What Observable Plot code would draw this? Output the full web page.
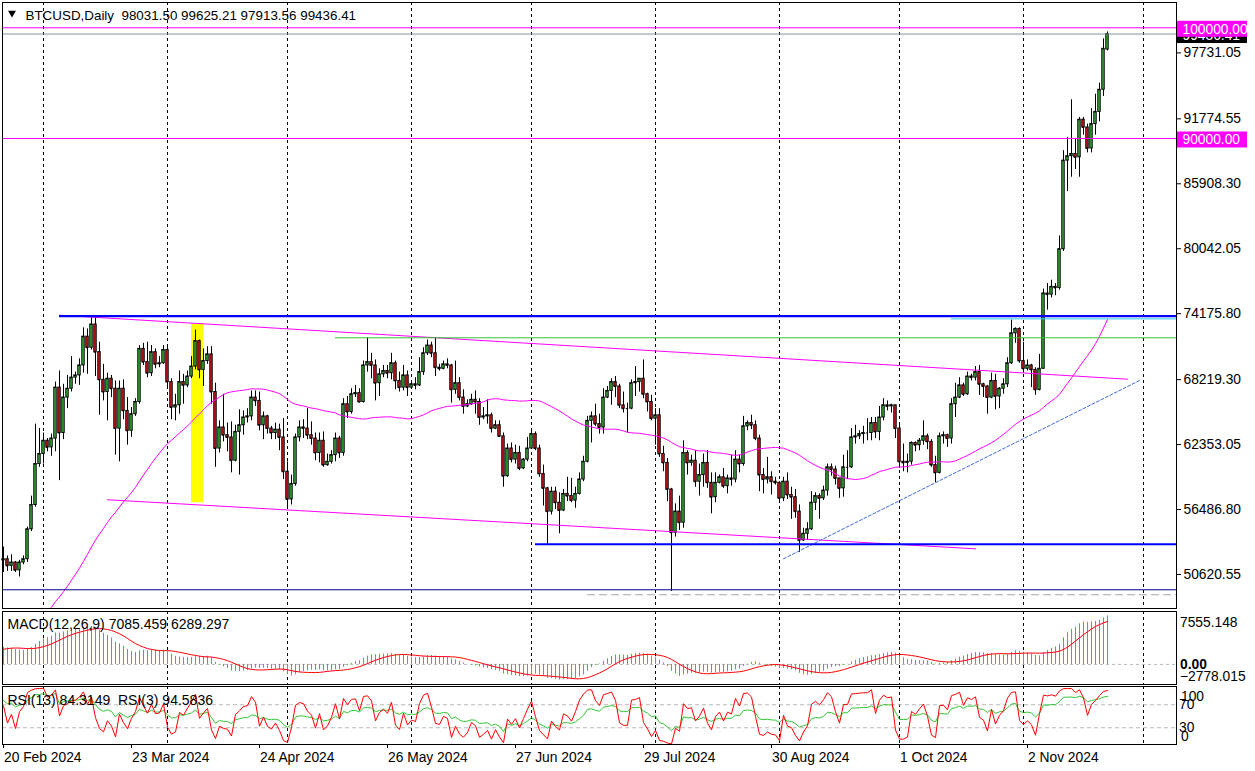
<!DOCTYPE html>
<html><head><meta charset="utf-8">
<script src="https://cdn.jsdelivr.net/npm/d3@7"></script>
<script src="https://cdn.jsdelivr.net/npm/@observablehq/plot@0.6"></script>
<style>
html,body{margin:0;padding:0;background:#fff;}
#chart{position:relative;width:1255px;height:771px;overflow:hidden;background:#fff;}
#chart svg{position:absolute;left:0;top:0;}
</style></head><body><div id="chart"></div>
<script>
// ---- daily candles, BTCUSD, in thousands of USD, first bar 2024-02-20 ----
const firstBar = "2024-02-20";
const opens = [
51.9,52.0,51.4,51.7,51.0,51.7,52.0,54.7,56.9,60.6,
61.5,62.7,62.1,62.9,67.5,63.4,66.6,67.4,68.4,68.6,
69.5,72.1,71.1,73.2,70.7,68.2,67.1,68.3,67.4,63.8,
67.4,65.4,63.6,65.1,66.2,71.0,69.8,68.8,70.7,69.6,
69.7,70.9,68.0,65.7,65.9,68.0,67.7,68.5,69.4,71.7,
69.1,69.9,70.5,67.1,62.0,63.9,63.2,63.0,60.9,63.5,
64.1,64.8,64.9,66.6,66.3,64.1,64.9,63.8,63.4,63.7,
63.0,59.9,57.4,58.8,63.0,63.9,63.8,63.2,62.9,61.6,
62.7,60.5,60.8,61.4,62.9,61.6,66.0,65.3,66.9,67.0,
66.2,69.5,69.8,69.5,67.9,68.7,69.0,68.8,69.7,68.1,
67.5,68.6,67.5,67.8,67.7,68.9,70.6,71.3,70.6,69.3,
69.2,69.6,69.5,67.3,67.9,66.6,65.8,66.0,66.4,66.2,
64.8,64.9,65.0,63.8,64.1,63.1,59.5,62.0,61.0,61.6,
60.2,61.0,62.0,63.3,62.0,59.7,58.4,56.3,58.1,57.1,
56.4,57.9,57.7,57.3,57.9,59.2,60.8,64.5,64.9,64.2,
63.9,66.6,67.2,68.0,67.6,65.9,65.6,65.6,67.9,68.0,
68.3,66.9,66.2,64.7,65.0,61.5,60.7,58.3,54.4,56.3,
55.3,61.6,60.7,60.9,59.0,59.6,60.7,58.9,57.6,58.9,
59.4,58.6,59.3,59.2,61.0,60.6,64.0,64.3,64.1,62.9,
59.6,59.2,59.4,59.0,58.9,57.5,59.0,57.8,57.6,56.3,
53.7,54.3,54.7,57.1,57.7,57.5,58.2,60.3,60.1,59.3,
58.4,60.3,60.3,63.0,63.1,63.3,63.4,63.4,64.3,63.5,
64.8,65.9,65.8,65.9,63.8,60.8,60.7,60.8,62.5,62.3,
62.7,63.1,62.6,60.5,59.8,63.1,63.2,62.9,66.0,66.6,
67.7,66.9,68.5,68.4,68.9,67.8,67.6,66.6,68.1,66.7,
67.4,67.8,69.7,72.4,72.8,69.9,69.2,69.5,69.1,67.3,
69.2,76.0,75.9,76.6,76.5,80.0,88.0,88.4,88.6,88.3,
91.7,91.0,89.1,91.3,92.4,94.4,98.03150];
const highs = [
53.1,52.3,52.4,51.8,51.9,52.3,54.9,57.7,64.2,63.8,
63.4,62.9,63.3,68.0,69.0,67.8,68.6,70.3,68.9,70.1,
72.9,72.8,73.9,73.9,71.6,69.6,68.8,68.6,68.1,68.1,
68.2,66.6,65.7,66.5,71.3,71.5,71.6,71.3,71.0,70.3,
71.3,71.2,68.3,66.9,69.0,68.7,69.0,70.3,72.7,71.8,
71.0,71.2,71.2,67.9,64.5,66.9,64.3,64.4,64.1,65.5,
65.4,65.6,67.2,67.2,67.1,65.3,65.0,64.0,64.3,64.2,
64.7,60.8,59.6,63.3,64.5,64.6,65.6,64.4,63.4,63.4,
63.5,61.5,61.8,63.4,63.1,66.5,66.7,67.4,67.7,67.4,
69.9,72.0,70.6,70.0,69.2,69.5,69.5,70.6,69.9,68.9,
69.5,69.0,67.9,68.4,70.2,71.1,71.8,71.6,72.0,69.6,
69.9,70.1,69.6,69.9,68.4,67.3,66.4,66.9,67.2,66.5,
65.7,66.4,65.2,64.5,64.5,63.4,62.4,62.5,62.3,62.2,
61.1,63.0,63.8,63.5,62.3,60.5,58.5,58.5,58.5,58.0,
58.3,59.4,59.3,58.5,59.8,61.3,64.9,65.3,66.0,65.1,
67.4,67.6,68.3,68.5,67.8,67.1,66.1,68.2,69.4,68.3,
70.0,67.0,66.8,65.6,65.6,62.2,61.1,58.4,57.0,57.7,
62.7,61.8,61.4,61.8,60.6,61.5,61.8,59.8,59.8,59.6,
60.2,59.6,61.4,61.8,61.4,64.9,64.5,65.0,64.5,63.2,
60.2,61.2,59.9,59.4,59.0,59.4,59.8,58.5,58.3,56.9,
54.8,55.3,58.1,58.0,57.9,58.6,60.6,60.6,60.4,59.3,
61.4,61.8,63.8,64.1,63.6,64.0,64.7,64.8,64.8,65.8,
66.5,66.3,66.0,65.9,64.1,62.4,61.5,62.6,62.6,62.9,
64.5,63.3,62.8,61.3,63.4,63.5,63.3,66.5,67.9,68.4,
67.9,68.9,68.7,69.4,69.5,67.9,67.7,68.8,68.7,67.5,
68.3,70.2,73.6,72.9,72.9,71.6,70.0,69.6,69.3,70.5,
76.4,76.9,77.2,76.9,81.2,88.9,90.1,93.5,90.0,91.9,
91.9,91.3,92.7,94.0,95.0,99.0,99.62521];
const lows = [
50.8,50.9,50.9,50.8,50.4,51.5,51.7,54.5,56.7,60.3,
60.6,61.7,61.3,61.7,59.1,62.8,65.6,67.1,67.8,67.7,
68.8,68.7,70.9,68.5,65.0,66.3,64.5,66.6,61.4,60.8,
64.6,62.3,63.0,64.9,66.0,69.5,68.4,68.5,69.2,69.3,
69.6,67.6,64.6,64.5,65.1,66.0,67.5,68.3,69.1,68.3,
67.6,69.6,66.0,60.3,61.6,62.6,61.7,59.8,60.8,59.6,
63.2,64.3,64.5,65.8,63.6,62.8,63.3,62.8,62.8,61.8,
59.2,56.5,56.9,58.6,62.6,62.9,62.8,62.3,60.9,60.7,
60.3,60.4,60.6,60.8,61.1,61.3,64.7,65.1,66.6,66.1,
66.1,68.9,68.3,66.3,66.7,68.4,68.3,68.2,67.3,67.1,
67.2,66.7,67.4,67.3,67.6,68.6,70.4,70.2,68.5,69.0,
69.1,69.2,66.1,66.9,66.3,65.1,65.7,65.9,65.1,64.1,
64.6,64.2,63.4,63.7,63.0,58.5,59.4,60.7,60.6,60.0,
60.1,60.8,61.9,61.8,59.4,56.8,53.3,56.0,56.5,54.3,
56.3,57.2,57.1,56.6,57.8,59.0,60.7,62.5,64.0,63.3,
63.3,66.5,65.9,66.6,65.6,65.2,63.4,65.5,66.7,67.1,
66.5,65.3,64.5,62.3,61.2,59.9,57.2,49.1,54.0,54.6,
54.8,59.6,60.4,58.5,57.7,58.5,58.4,56.1,57.1,58.8,
58.4,57.9,58.6,58.9,59.8,60.4,63.6,63.7,62.7,58.1,
57.9,58.8,57.8,58.7,57.2,57.2,57.4,55.6,55.7,52.6,
53.6,53.7,54.6,56.4,55.6,57.3,57.7,59.5,58.7,57.5,
57.6,59.2,60.2,62.4,62.8,62.4,62.7,62.7,62.9,62.7,
64.5,65.4,65.2,62.9,60.2,59.9,59.8,60.5,61.7,61.8,
62.3,61.9,60.3,58.9,59.7,62.4,62.1,62.4,64.8,66.5,
66.7,66.8,68.1,68.1,66.8,66.6,65.1,66.5,65.5,65.6,
66.9,67.5,69.6,71.5,69.7,68.8,69.0,67.5,66.8,67.2,
69.2,74.5,75.6,75.8,76.3,79.8,85.2,86.5,87.2,86.5,
90.3,88.7,88.7,90.3,91.5,93.8,97.91356];
const closes = [
52.0,51.4,51.7,51.0,51.7,52.0,54.7,56.9,60.6,61.5,
62.7,62.1,62.9,67.5,63.4,66.6,67.4,68.4,68.6,69.5,
72.1,71.1,73.2,70.7,68.2,67.1,68.3,67.4,63.8,67.4,
65.4,63.6,65.1,66.2,71.0,69.8,68.8,70.7,69.6,69.7,
70.9,68.0,65.7,65.9,68.0,67.7,68.5,69.4,71.7,69.1,
69.9,70.5,67.1,62.0,63.9,63.2,63.0,60.9,63.5,64.1,
64.8,64.9,66.6,66.3,64.1,64.9,63.8,63.4,63.7,63.0,
59.9,57.4,58.8,63.0,63.9,63.8,63.2,62.9,61.6,62.7,
60.5,60.8,61.4,62.9,61.6,66.0,65.3,66.9,67.0,66.2,
69.5,69.8,69.5,67.9,68.7,69.0,68.8,69.7,68.1,67.5,
68.6,67.5,67.8,67.7,68.9,70.6,71.3,70.6,69.3,69.2,
69.6,69.5,67.3,67.9,66.6,65.8,66.0,66.4,66.2,64.8,
64.9,65.0,63.8,64.1,63.1,59.5,62.0,61.0,61.6,60.2,
61.0,62.0,63.3,62.0,59.7,58.4,56.3,58.1,57.1,56.4,
57.9,57.7,57.3,57.9,59.2,60.8,64.5,64.9,64.2,63.9,
66.6,67.2,68.0,67.6,65.9,65.6,65.6,67.9,68.0,68.3,
66.9,66.2,64.7,65.0,61.5,60.7,58.3,54.4,56.3,55.3,
61.6,60.7,60.9,59.0,59.6,60.7,58.9,57.6,58.9,59.4,
58.6,59.3,59.2,61.0,60.6,64.0,64.3,64.1,62.9,59.6,
59.2,59.4,59.0,58.9,57.5,59.0,57.8,57.6,56.3,53.7,
54.3,54.7,57.1,57.7,57.5,58.2,60.3,60.1,59.3,58.4,
60.3,60.3,63.0,63.1,63.3,63.4,63.4,64.3,63.5,64.8,
65.9,65.8,65.9,63.8,60.8,60.7,60.8,62.5,62.3,62.7,
63.1,62.6,60.5,59.8,63.1,63.2,62.9,66.0,66.6,67.7,
66.9,68.5,68.4,68.9,67.8,67.6,66.6,68.1,66.7,67.4,
67.8,69.7,72.4,72.8,69.9,69.2,69.5,69.1,67.3,69.2,
76.0,75.9,76.6,76.5,80.0,88.0,88.4,88.6,88.3,91.7,
91.0,89.1,91.3,92.4,94.4,98.1,99.43641];
// closes before the visible range (2023-12-01 .. 2024-02-19) feeding the indicators
const warmupCloses = [
38.7,39.5,40.0,42.0,44.1,43.8,43.3,44.2,43.7,43.8,41.2,41.5,42.9,43.0,41.9,42.2,41.4,42.7,42.3,43.7,43.9,44.0,43.7,43.0,43.6,42.5,43.4,42.6,42.1,42.1,42.3,
44.2,44.9,42.8,44.2,44.2,43.9,43.9,47.0,46.1,46.6,46.3,42.9,42.8,41.7,42.5,43.1,42.7,41.3,41.6,41.7,41.6,39.5,39.8,40.1,40.0,41.8,42.1,42.0,43.3,42.9,42.6,
43.1,43.2,43.0,42.6,42.7,43.1,44.3,45.3,47.1,47.8,48.3,50.0,49.7,51.8,52.0,52.1,51.6,52.1,51.8];

// ---- axes / labels ----
const priceTicks = [50620.55, 56486.80, 62353.05, 68219.30, 74175.80, 80042.05, 85908.30, 91774.55, 97731.05];
const dateLabels = ["2024-02-20","2024-03-23","2024-04-24","2024-05-26","2024-06-27","2024-07-29","2024-08-30","2024-10-01","2024-11-02"];
const gridDates = ["2024-03-01","2024-04-01","2024-05-01","2024-06-01","2024-07-01","2024-08-01","2024-09-01","2024-10-01","2024-11-01","2024-12-01"];
const headerText = "BTCUSD,Daily  98031.50 99625.21 97913.56 99436.41";
const macdText = "MACD(12,26,9) 7085.459 6289.297";
const rsiText = "RSI(13) 84.3149  RSI(3) 94.5836";
const macdScale = [-2778.015, 7555.148];

// ---- drawn objects ----
const levelPrices = [100000, 99436.41, 90000, 73950, 73710, 72000, 53350, 49240, 48790];
const levelStarts = [null, null, null, "2024-03-05", "2024-10-14", "2024-05-13", "2024-07-02", null, "2024-07-15"];
const topLineDates = ["2024-03-05", "2024-11-27"], topLinePrices = [74040, 68260];
const lowLineDates = ["2024-03-17", "2024-10-20"], lowLinePrices = [57370, 52940];
const riseLineDates = ["2024-09-02", "2024-11-30"], riseLinePrices = [52040, 68140];
const boxDates = ["2024-04-07", "2024-04-10"], boxPrices = [57100, 73200];
const tagValues = [99436.41, 100000, 90000];
const tagTexts = ["99436.41", "100000.00", "90000.00"];

// ---------------------------------------------------------------
const DAY = 864e5;
const t0 = Date.parse(firstBar);
const D = s => new Date(s);
const xStart = new Date(t0 - 0.25 * DAY), xEnd = new Date(t0 + 293.25 * DAY);
const GREEN = "#33c533", RED = "#e11b1b", MAG = "#ff00ff";
const FONT = "'Liberation Sans', Arial, Helvetica, sans-serif";

const rows = closes.map((c, i) => ({
  date: new Date(t0 + i * DAY), open: opens[i] * 1000, high: highs[i] * 1000,
  low: lows[i] * 1000, close: c * 1000
}));
const allCloses = warmupCloses.concat(closes).map(v => v * 1000);
const w0 = t0 - warmupCloses.length * DAY;
const allRows = allCloses.map((c, i) => ({date: new Date(w0 + i * DAY), close: c}));

function ema(a, n) { const k = 2 / (n + 1); let e = a[0]; return a.map((v, i) => i === 0 ? e : (e = k * v + (1 - k) * e)); }
function rsi(a, n) {
  const out = a.map(() => NaN); let g = 0, l = 0;
  for (let i = 1; i <= n; i++) { const d = a[i] - a[i - 1]; if (d > 0) g += d; else l -= d; }
  g /= n; l /= n; out[n] = l === 0 ? 100 : 100 - 100 / (1 + g / l);
  for (let i = n + 1; i < a.length; i++) {
    const d = a[i] - a[i - 1];
    g = (g * (n - 1) + Math.max(d, 0)) / n; l = (l * (n - 1) + Math.max(-d, 0)) / n;
    out[i] = l === 0 ? 100 : 100 - 100 / (1 + g / l);
  }
  return out;
}
const e12 = ema(allCloses, 12), e26 = ema(allCloses, 26);
const macd = e12.map((v, i) => v - e26[i]);
const signal = macd.map((_, i) => i < 8 ? NaN : d3.mean(macd.slice(i - 8, i + 1)));
const r13 = rsi(allCloses, 13), r3 = rsi(allCloses, 3);
const off = warmupCloses.length;
const ind = rows.map((r, i) => ({date: r.date, macd: macd[i + off], signal: signal[i + off], rsi13: r13[i + off], rsi3: r3[i + off]}));

const base = {
  width: 1255, height: 771, marginLeft: 2, marginRight: 79,
  color: {type: "identity"},
  style: {fontFamily: FONT, fontSize: "13.8px", color: "black", background: "transparent", overflow: "visible"}
};
const xNoAxis = {type: "utc", domain: [xStart, xEnd], axis: null};
const grid = Plot.ruleX(gridDates.map(D), {stroke: "black", strokeDasharray: "3,3"});
const bx1 = d => new Date(+d.date - 0.3 * DAY), bx2 = d => new Date(+d.date + 0.3 * DAY);

const levelStyle = [
  {stroke: MAG, strokeWidth: 1}, {stroke: "#8494a4", strokeWidth: 1}, {stroke: MAG, strokeWidth: 1},
  {stroke: "#0000ff", strokeWidth: 2.2}, {stroke: "#2cc6ff", strokeWidth: 1}, {stroke: "#33c533", strokeWidth: 1},
  {stroke: "#0000ff", strokeWidth: 2.2}, {stroke: "#00008b", strokeWidth: 1},
  {stroke: "#a8a8a8", strokeWidth: 1, strokeDasharray: "8,4"}
];
const levelMarks = levelPrices.map((p, i) => Plot.ruleY([{p, a: levelStarts[i] ? D(levelStarts[i]) : xStart, b: xEnd}],
  {y: "p", x1: "a", x2: "b", ...levelStyle[i]}));
const seg = (ds, ps) => ds.map((d, i) => ({date: D(d), price: ps[i]}));

const main = Plot.plot({
  ...base, marginTop: 2, marginBottom: 163,
  x: xNoAxis,
  y: {domain: [47549, 102283]},
  marks: [
    grid,
    Plot.rect([{a: D(boxDates[0]), b: D(boxDates[1]), c: boxPrices[0], d: boxPrices[1]}], {x1: "a", x2: "b", y1: "c", y2: "d", fill: "#ffff00"}),
    Plot.ruleX(rows, {x: "date", y1: "low", y2: "high", stroke: "black"}),
    Plot.rect(rows, {x1: bx1, x2: bx2, y1: "open", y2: "close", fill: d => d.close >= d.open ? GREEN : RED, stroke: "black", strokeWidth: 1}),
    Plot.ruleY(rows, {y: "close", x1: bx1, x2: bx2, stroke: "black"}),
    Plot.lineY(allRows, Plot.windowY({k: 50, anchor: "end", strict: true}, {x: "date", y: "close", stroke: MAG, strokeWidth: 1, clip: true})),
    Plot.line(seg(topLineDates, topLinePrices), {x: "date", y: "price", stroke: MAG, strokeWidth: 1}),
    Plot.line(seg(lowLineDates, lowLinePrices), {x: "date", y: "price", stroke: MAG, strokeWidth: 1}),
    Plot.line(seg(riseLineDates, riseLinePrices), {x: "date", y: "price", stroke: "#3d6bdc", strokeWidth: 1, strokeDasharray: "3,2"}),
    ...levelMarks,
    Plot.axisY({anchor: "right", ticks: priceTicks, tickFormat: d3.format(".2f"), tickSize: 4, tickPadding: 3, label: null, fontSize: 13.8}),
    Plot.frame({stroke: "black"}),
    Plot.dot([0], {frameAnchor: "top-left", dx: 9.5, dy: 10.5, symbol: "triangle2", r: 3.8, rotate: 180, fill: "black", stroke: null}),
    Plot.text([headerText], {frameAnchor: "top-left", dx: 23, dy: 17.5, lineAnchor: "bottom", textAnchor: "start", fontSize: 13.4, fill: "black"})
  ]
});

const macdPlot = Plot.plot({
  ...base, marginTop: 611, marginBottom: 87,
  x: xNoAxis,
  y: {domain: macdScale, range: [683, 612], axis: null},
  marks: [
    grid,
    Plot.ruleY([0], {stroke: "#b8b8b8", strokeDasharray: "3,3"}),
    Plot.ruleX(ind, {x: "date", y1: 0, y2: "macd", stroke: GREEN}),
    Plot.line(ind, {x: "date", y: "signal", stroke: "#ff0000", strokeWidth: 1}),
    Plot.frame({stroke: "black"}),
    Plot.text([macdText], {frameAnchor: "top-left", dx: 5, dy: 17, lineAnchor: "bottom", textAnchor: "start", fontSize: 14, fill: "black"}),
    Plot.text([macdScale[1]], {y: d => d, text: d => d3.format(".3f")(d), frameAnchor: "right", dx: 3.5, dy: 14, lineAnchor: "bottom", textAnchor: "start", fill: "black"}),
    Plot.text([0], {y: d => d, text: () => "0.00", frameAnchor: "right", dx: 3.5, textAnchor: "start", fontWeight: "bold", fill: "black"}),
    Plot.text([macdScale[0]], {y: d => d, text: d => d3.format(".3f")(d), frameAnchor: "right", dx: 3.5, dy: -3, lineAnchor: "bottom", textAnchor: "start", fill: "black"})
  ]
});

const rsiPlot = Plot.plot({
  ...base, marginTop: 686, marginBottom: 27,
  x: {type: "utc", domain: [xStart, xEnd]},
  y: {domain: [0, 100], range: [744.5, 687], axis: null},
  marks: [
    grid,
    Plot.ruleY([70, 30], {stroke: "#b8b8b8", strokeDasharray: "4,3"}),
    Plot.line(ind, {x: "date", y: "rsi13", stroke: GREEN, strokeWidth: 1}),
    Plot.line(ind, {x: "date", y: "rsi3", stroke: "#ff0000", strokeWidth: 1}),
    Plot.frame({stroke: "black"}),
    Plot.text([rsiText], {frameAnchor: "top-left", dx: 5, dy: 18, lineAnchor: "bottom", textAnchor: "start", fontSize: 14, fill: "black"}),
    Plot.text([100], {y: d => d, text: d => String(d), frameAnchor: "right", dx: 4.5, dy: 13, lineAnchor: "bottom", textAnchor: "start", fill: "black"}),
    Plot.text([70, 30], {y: d => d, text: d => String(d), frameAnchor: "right", dx: 2.5, textAnchor: "start", fill: "black"}),
    Plot.text([0], {y: d => d, text: d => String(d), frameAnchor: "right", dx: 4.5, dy: -4.5, lineAnchor: "bottom", textAnchor: "start", fill: "black"}),
    Plot.axisX({ticks: dateLabels.map(D), tickSize: 4, tickFormat: () => "", label: null}),
    Plot.text(dateLabels.map(D), {x: d => d, text: d => d3.utcFormat("%-d %b %Y")(d), frameAnchor: "bottom", dy: 17, dx: 0.5, lineAnchor: "bottom", textAnchor: "start", fontSize: 13.8, fill: "black"})
  ]
});

const host = document.getElementById("chart");
host.append(main, macdPlot, rsiPlot);

// price tags on the right axis, placed with the plot's own y scale
const yS = main.scale("y");
const tagFill = ["#000000", MAG, MAG];
const g = d3.select(main).append("g").attr("font-family", FONT).attr("font-size", 13.8);
tagValues.forEach((v, i) => {
  const cy = yS.apply(v) + 1.5;
  g.append("rect").attr("x", 1177).attr("y", cy - 8).attr("width", 70).attr("height", 16).attr("fill", tagFill[i]);
  g.append("text").attr("x", 1182.5).attr("y", cy + 4.8).attr("fill", "white").attr("text-anchor", "start").text(tagTexts[i]);
});
</script></body></html>
